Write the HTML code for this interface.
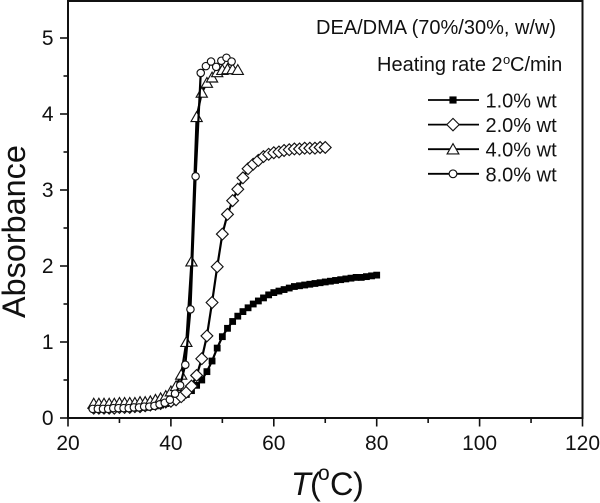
<!DOCTYPE html>
<html>
<head>
<meta charset="utf-8">
<title>Absorbance vs temperature</title>
<style>
html,body{margin:0;padding:0;background:#fff;width:600px;height:503px;overflow:hidden}
svg{display:block;filter:blur(0.35px)}
text{font-family:"Liberation Sans",Arial,sans-serif;fill:#111}
</style>
</head>
<body>
<svg id="chart" xmlns="http://www.w3.org/2000/svg" width="600" height="503" viewBox="0 0 600 503">
  <g id="frame"></g>
  <g id="series"></g>
  <g id="axes"></g>
  <text transform="translate(25,318) rotate(-90)" font-size="32.4">Absorbance</text>
  <text y="495" font-size="32.4"><tspan x="291" font-style="italic">T</tspan><tspan x="310">(</tspan><tspan x="318" y="480" font-size="21">o</tspan><tspan x="330" y="495">C</tspan><tspan x="353">)</tspan></text>
  <text x="316" y="34" font-size="20">DEA/DMA (70%/30%, w/w)</text>
  <text y="71" font-size="20"><tspan x="377">Heating rate 2</tspan><tspan x="503" y="64" font-size="13">o</tspan><tspan x="510" y="71">C/min</tspan></text>
  <g id="legend"></g>
</svg>
<script>
var temps1 = [25,26,27,28,29,30,31,32,33,34,35,36,37,38,39,40,41,42,43,44,45,46,47,48,49,50,51,52,53,54,55,56,57,58,59,60,61,62,63,64,65,66,67,68,69,70,71,72,73,74,75,76,77,78,79,80];
var absorb1 = [.12,.12,.12,.12,.12,.13,.13,.13,.13,.14,.14,.15,.16,.17,.19,.21,.24,.27,.31,.36,.43,.5,.61,.75,.92,1.07,1.18,1.27,1.34,1.4,1.45,1.5,1.54,1.58,1.62,1.65,1.67,1.69,1.71,1.73,1.74,1.75,1.76,1.77,1.78,1.79,1.8,1.81,1.82,1.83,1.84,1.85,1.85,1.86,1.87,1.88];
var temps2 = [25,26,27,28,29,30,31,32,33,34,35,36,37,38,39,40,41,42,43,44,45,46,47,48,49,50,51,52,53,54,55,56,57,58,59,60,61,62,63,64,65,66,67,68,69,70];
var absorb2 = [.13,.13,.13,.13,.13,.14,.14,.14,.15,.15,.16,.17,.18,.19,.21,.22,.24,.28,.34,.42,.56,.78,1.08,1.52,1.99,2.42,2.68,2.86,3.01,3.16,3.28,3.34,3.39,3.44,3.47,3.49,3.5,3.52,3.53,3.54,3.54,3.55,3.55,3.55,3.56,3.56];
var temps4 = [25,26,27,28,29,30,31,32,33,34,35,36,37,38,39,40,41,42,43,44,45,46,47,48,49,50,51,52,53];
var absorb4 = [.19,.19,.19,.19,.19,.2,.2,.2,.2,.21,.21,.22,.24,.26,.29,.35,.42,.57,1.0,2.06,3.96,4.28,4.41,4.48,4.55,4.58,4.59,4.59,4.58];
var temps8 = [24.8,25.8,26.8,27.8,28.8,29.8,30.8,31.8,32.8,33.8,34.8,35.8,36.8,37.8,38.8,39.8,40.8,41.8,42.8,43.8,44.8,45.8,46.8,47.8,48.8,49.8,50.8,51.8];
var absorb8 = [.12,.12,.12,.12,.13,.13,.13,.13,.14,.14,.15,.15,.16,.18,.2,.24,.32,.43,.7,1.43,3.18,4.54,4.63,4.69,4.62,4.7,4.74,4.69];

var xTicks = [20,40,60,80,100,120];
var xMinorTicks = [30,50,70,90,110];
var yTicks = [0,1,2,3,4,5];
var yMinorTicks = [.5,1.5,2.5,3.5,4.5];
var legendLabels = ['1.0% wt','2.0% wt','4.0% wt','8.0% wt'];
var legendKinds = ['square','diamond','triangle','circle'];

var NS = 'http://www.w3.org/2000/svg';
var INK = '#111';
function sx(v){ return 68 + (v - 20) * 5.145; }
function sy(v){ return 418 - v * 76; }

function make(tag, attrs, parent){
  var el = document.createElementNS(NS, tag);
  for (var k in attrs) el.setAttribute(k, attrs[k]);
  parent.appendChild(el);
  return el;
}

function marker(kind, x, y, scale, parent){
  var el;
  if (kind === 'square') {
    var s = 3.4 * scale;
    el = make('rect', {x:x-s, y:y-s, width:2*s, height:2*s, fill:'#000', stroke:'none'}, parent);
  } else if (kind === 'diamond') {
    var d = 5.9 * scale;
    el = make('polygon', {points:(x-d)+','+y+' '+x+','+(y-d)+' '+(x+d)+','+y+' '+x+','+(y+d), fill:'#fff', stroke:INK, 'stroke-width':1.15}, parent);
  } else if (kind === 'triangle') {
    var t = 5.6 * scale;
    el = make('polygon', {points:(x-t)+','+(y+t*0.8)+' '+x+','+(y-t*0.95)+' '+(x+t)+','+(y+t*0.8), fill:'#fff', stroke:INK, 'stroke-width':1.15}, parent);
  } else {
    el = make('circle', {cx:x, cy:y, r:3.7*scale, fill:'#fff', stroke:INK, 'stroke-width':1.15}, parent);
  }
  return el;
}

function drawSeries(name, xs, ys, kind){
  var g = make('g', {}, document.getElementById('series'));
  
  
  var pts = [];
  for (var i = 0; i < xs.length; i++) pts.push(sx(xs[i]).toFixed(2) + ',' + sy(ys[i]).toFixed(2));
  var line = make('polyline', {points:pts.join(' '), fill:'none', stroke:'#000', 'stroke-width':2.2}, g);
  
  
  for (var j = 0; j < xs.length; j++) {
    var m = marker(kind, sx(xs[j]), sy(ys[j]), 1, g);
    
    
  }
}

drawSeries('series-1-percent', temps1, absorb1, 'square');
drawSeries('series-2-percent', temps2, absorb2, 'diamond');
drawSeries('series-4-percent', temps4, absorb4, 'triangle');
drawSeries('series-8-percent', temps8, absorb8, 'circle');

var frame = document.getElementById('frame');
var box = make('rect', {x:68, y:1, width:514.5, height:417, fill:'none', stroke:INK, 'stroke-width':2}, frame);



var axes = document.getElementById('axes');
xTicks.forEach(function(v){
  var t = make('line', {x1:sx(v), x2:sx(v), y1:418, y2:426.5, stroke:INK, 'stroke-width':1.6}, axes);
  
  
  var l = make('text', {x:sx(v), y:450, 'font-size':21, 'text-anchor':'middle'}, axes);
  l.textContent = v;
  
  
});
xMinorTicks.forEach(function(v){
  var t = make('line', {x1:sx(v), x2:sx(v), y1:418, y2:423, stroke:INK, 'stroke-width':1.6}, axes);
  
  
});
yTicks.forEach(function(v){
  var t = make('line', {x1:60, x2:68, y1:sy(v), y2:sy(v), stroke:INK, 'stroke-width':1.6}, axes);
  
  
  var l = make('text', {x:53.5, y:sy(v)+7, 'font-size':21, 'text-anchor':'end'}, axes);
  l.textContent = v;
  
  
});
yMinorTicks.forEach(function(v){
  var t = make('line', {x1:63.5, x2:68, y1:sy(v), y2:sy(v), stroke:INK, 'stroke-width':1.6}, axes);
  
  
});

var legend = document.getElementById('legend');
legendLabels.forEach(function(label, i){
  var y = 100 + i * 24.6;
  var g = make('g', {}, legend);
  
  
  make('line', {x1:428, x2:479, y1:y, y2:y, stroke:'#000', 'stroke-width':1.8}, g);
  marker(legendKinds[i], 453, y, 1.05, g);
  var t = make('text', {x:485.5, y:y+7.5, 'font-size':20}, g);
  t.textContent = label;
});
</script>
</body>
</html>
